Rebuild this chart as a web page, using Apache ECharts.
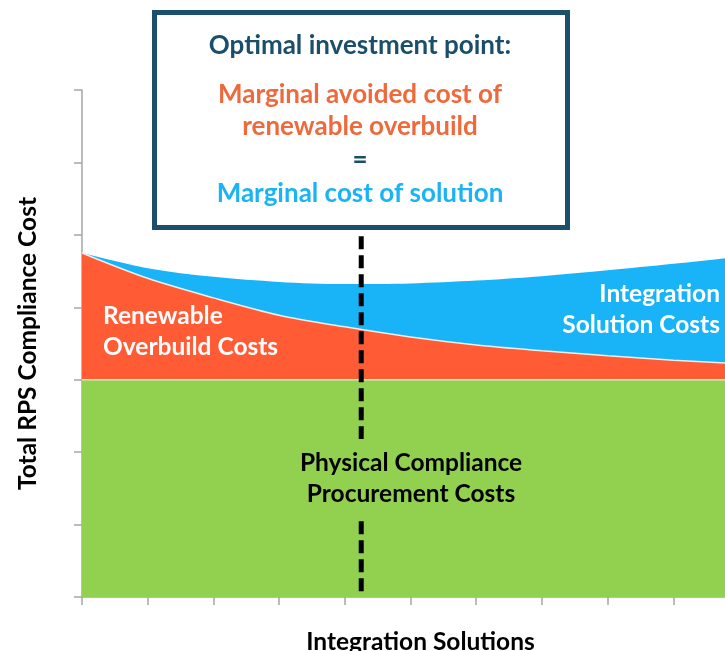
<!DOCTYPE html>
<html>
<head>
	<meta charset="utf-8">
	<title>Total RPS Compliance Cost</title>
    <script src="https://cdn.jsdelivr.net/npm/echarts@6/dist/echarts.min.js"></script>
    <style>
        html, body { margin: 0; padding: 0; background: #fff; }
    </style>
</head>
<body>
    <div id="main" style="width: 725px;height:651px;"></div>

	<script>
        // x positions (integration solutions, arbitrary units)
        var xs = [0, 1, 2, 3, 4, 5, 6, 7, 8, 9, 10];
        // cost layers, bottom to top
        var procurement = [3, 3, 3, 3, 3, 3, 3, 3, 3, 3, 3];
        var overbuild = [1.75, 1.40, 1.13, 0.89, 0.73, 0.59, 0.48, 0.40, 0.33, 0.27, 0.22];
        var integration = [0, 0.14, 0.29, 0.46, 0.59, 0.74, 0.89, 1.03, 1.18, 1.33, 1.48];
        // optimal investment point and dashed line span
        var optimalX = 4.25;
        var dashSpan = [0.08, 5];

        // cumulative tops, drawn back to front (tallest first)
        function tops(layers) {
            return xs.map(function (x, i) {
                var s = 0;
                layers.forEach(function (l) { s += l[i]; });
                return [x, +s.toFixed(3)];
            });
        }

        var font = 'Lato, "Open Sans", sans-serif';
		var myChart = echarts.init(document.getElementById('main'));

		myChart.setOption({
            animation: false,
            grid: { left: 82, top: 90, width: 657, height: 507, outerBoundsMode: 'none' },
            xAxis: {
                type: 'value', min: 0, max: 10, interval: 1,
                name: 'Integration Solutions',
                nameLocation: 'middle', nameGap: 33,
                nameTextStyle: { fontFamily: font, fontWeight: 'bold', fontSize: 24.5, color: '#000', padding: [0, 0, 0, 20] },
                axisLine: { lineStyle: { color: '#a6a6a6', width: 1.5 } },
                axisTick: { show: true, length: 8, lineStyle: { color: '#a6a6a6', width: 1.5 } },
                axisLabel: { show: false },
                splitLine: { show: false }
            },
            yAxis: {
                type: 'value', min: 0, max: 7, interval: 1,
                name: 'Total RPS Compliance Cost',
                nameLocation: 'middle', nameGap: 41, nameRotate: 90,
                nameTextStyle: { fontFamily: font, fontWeight: 'bold', fontSize: 24.5, color: '#000' },
                axisLine: { show: true, lineStyle: { color: '#a6a6a6', width: 1.5 } },
                axisTick: { show: true, length: 8, lineStyle: { color: '#a6a6a6', width: 1.5 } },
                axisLabel: { show: false },
                splitLine: { show: false }
            },
            series: [{
                name: 'Integration Solution Costs',
                type: 'line', symbol: 'none', smooth: 0.3,
                data: tops([procurement, overbuild, integration]),
                lineStyle: { width: 0 },
                areaStyle: { color: '#19b4f7', opacity: 1 }
            }, {
                name: 'Renewable Overbuild Costs',
                type: 'line', symbol: 'none', smooth: 0.3,
                data: tops([procurement, overbuild]),
                lineStyle: { color: 'rgba(255,255,255,0.85)', width: 1.5 },
                areaStyle: { color: '#ff5b35', opacity: 1 }
            }, {
                name: 'Physical Compliance Procurement Costs',
                type: 'line', symbol: 'none',
                data: tops([procurement]),
                lineStyle: { color: '#d8eec0', width: 1.5 },
                areaStyle: { color: '#92d050', opacity: 1 }
            }, {
                name: 'Optimal point',
                type: 'line', symbol: 'none', z: 5,
                data: [[optimalX, dashSpan[0]], [optimalX, dashSpan[1]]],
                lineStyle: { color: '#000', width: 5, type: [13, 6] }
            }],
            graphic: [
                { type: 'text', x: 103, y: 332, z: 10,
                  style: { text: 'Renewable\nOverbuild Costs', fill: '#fff', font: 'bold 24.5px ' + font, lineHeight: 31, verticalAlign: 'middle' } },
                { type: 'text', x: 720, y: 310, z: 10,
                  style: { text: 'Integration\nSolution Costs', fill: '#fff', font: 'bold 24.5px ' + font, lineHeight: 31, align: 'right', verticalAlign: 'middle' } },
                { type: 'text', x: 411, y: 479, z: 10,
                  style: { text: 'Physical Compliance\nProcurement Costs', fill: '#000', font: 'bold 24.5px ' + font, lineHeight: 31,
                           align: 'center', verticalAlign: 'middle', backgroundColor: '#92d050', padding: [9, 6] } },
                { type: 'rect', z: 20,
                  shape: { x: 154.5, y: 12.5, width: 413, height: 215 },
                  style: { fill: '#fff', stroke: '#1b4f6c', lineWidth: 5 } },
                { type: 'text', x: 360, y: 46, z: 21,
                  style: { text: 'Optimal investment point:', fill: '#1a4e6b', font: 'bold 26px ' + font, align: 'center', verticalAlign: 'middle' } },
                { type: 'text', x: 360, y: 111, z: 21,
                  style: { text: 'Marginal avoided cost of\nrenewable overbuild', fill: '#ee6a3c', font: 'bold 26px ' + font, lineHeight: 32, align: 'center', verticalAlign: 'middle' } },
                { type: 'text', x: 360, y: 160, z: 21,
                  style: { text: '=', fill: '#1a4e6b', font: 'bold 26px ' + font, align: 'center', verticalAlign: 'middle' } },
                { type: 'text', x: 360, y: 194, z: 21,
                  style: { text: 'Marginal cost of solution', fill: '#1ab3f5', font: 'bold 26px ' + font, align: 'center', verticalAlign: 'middle' } }
            ]
        });
	</script>
</body>
</html>
